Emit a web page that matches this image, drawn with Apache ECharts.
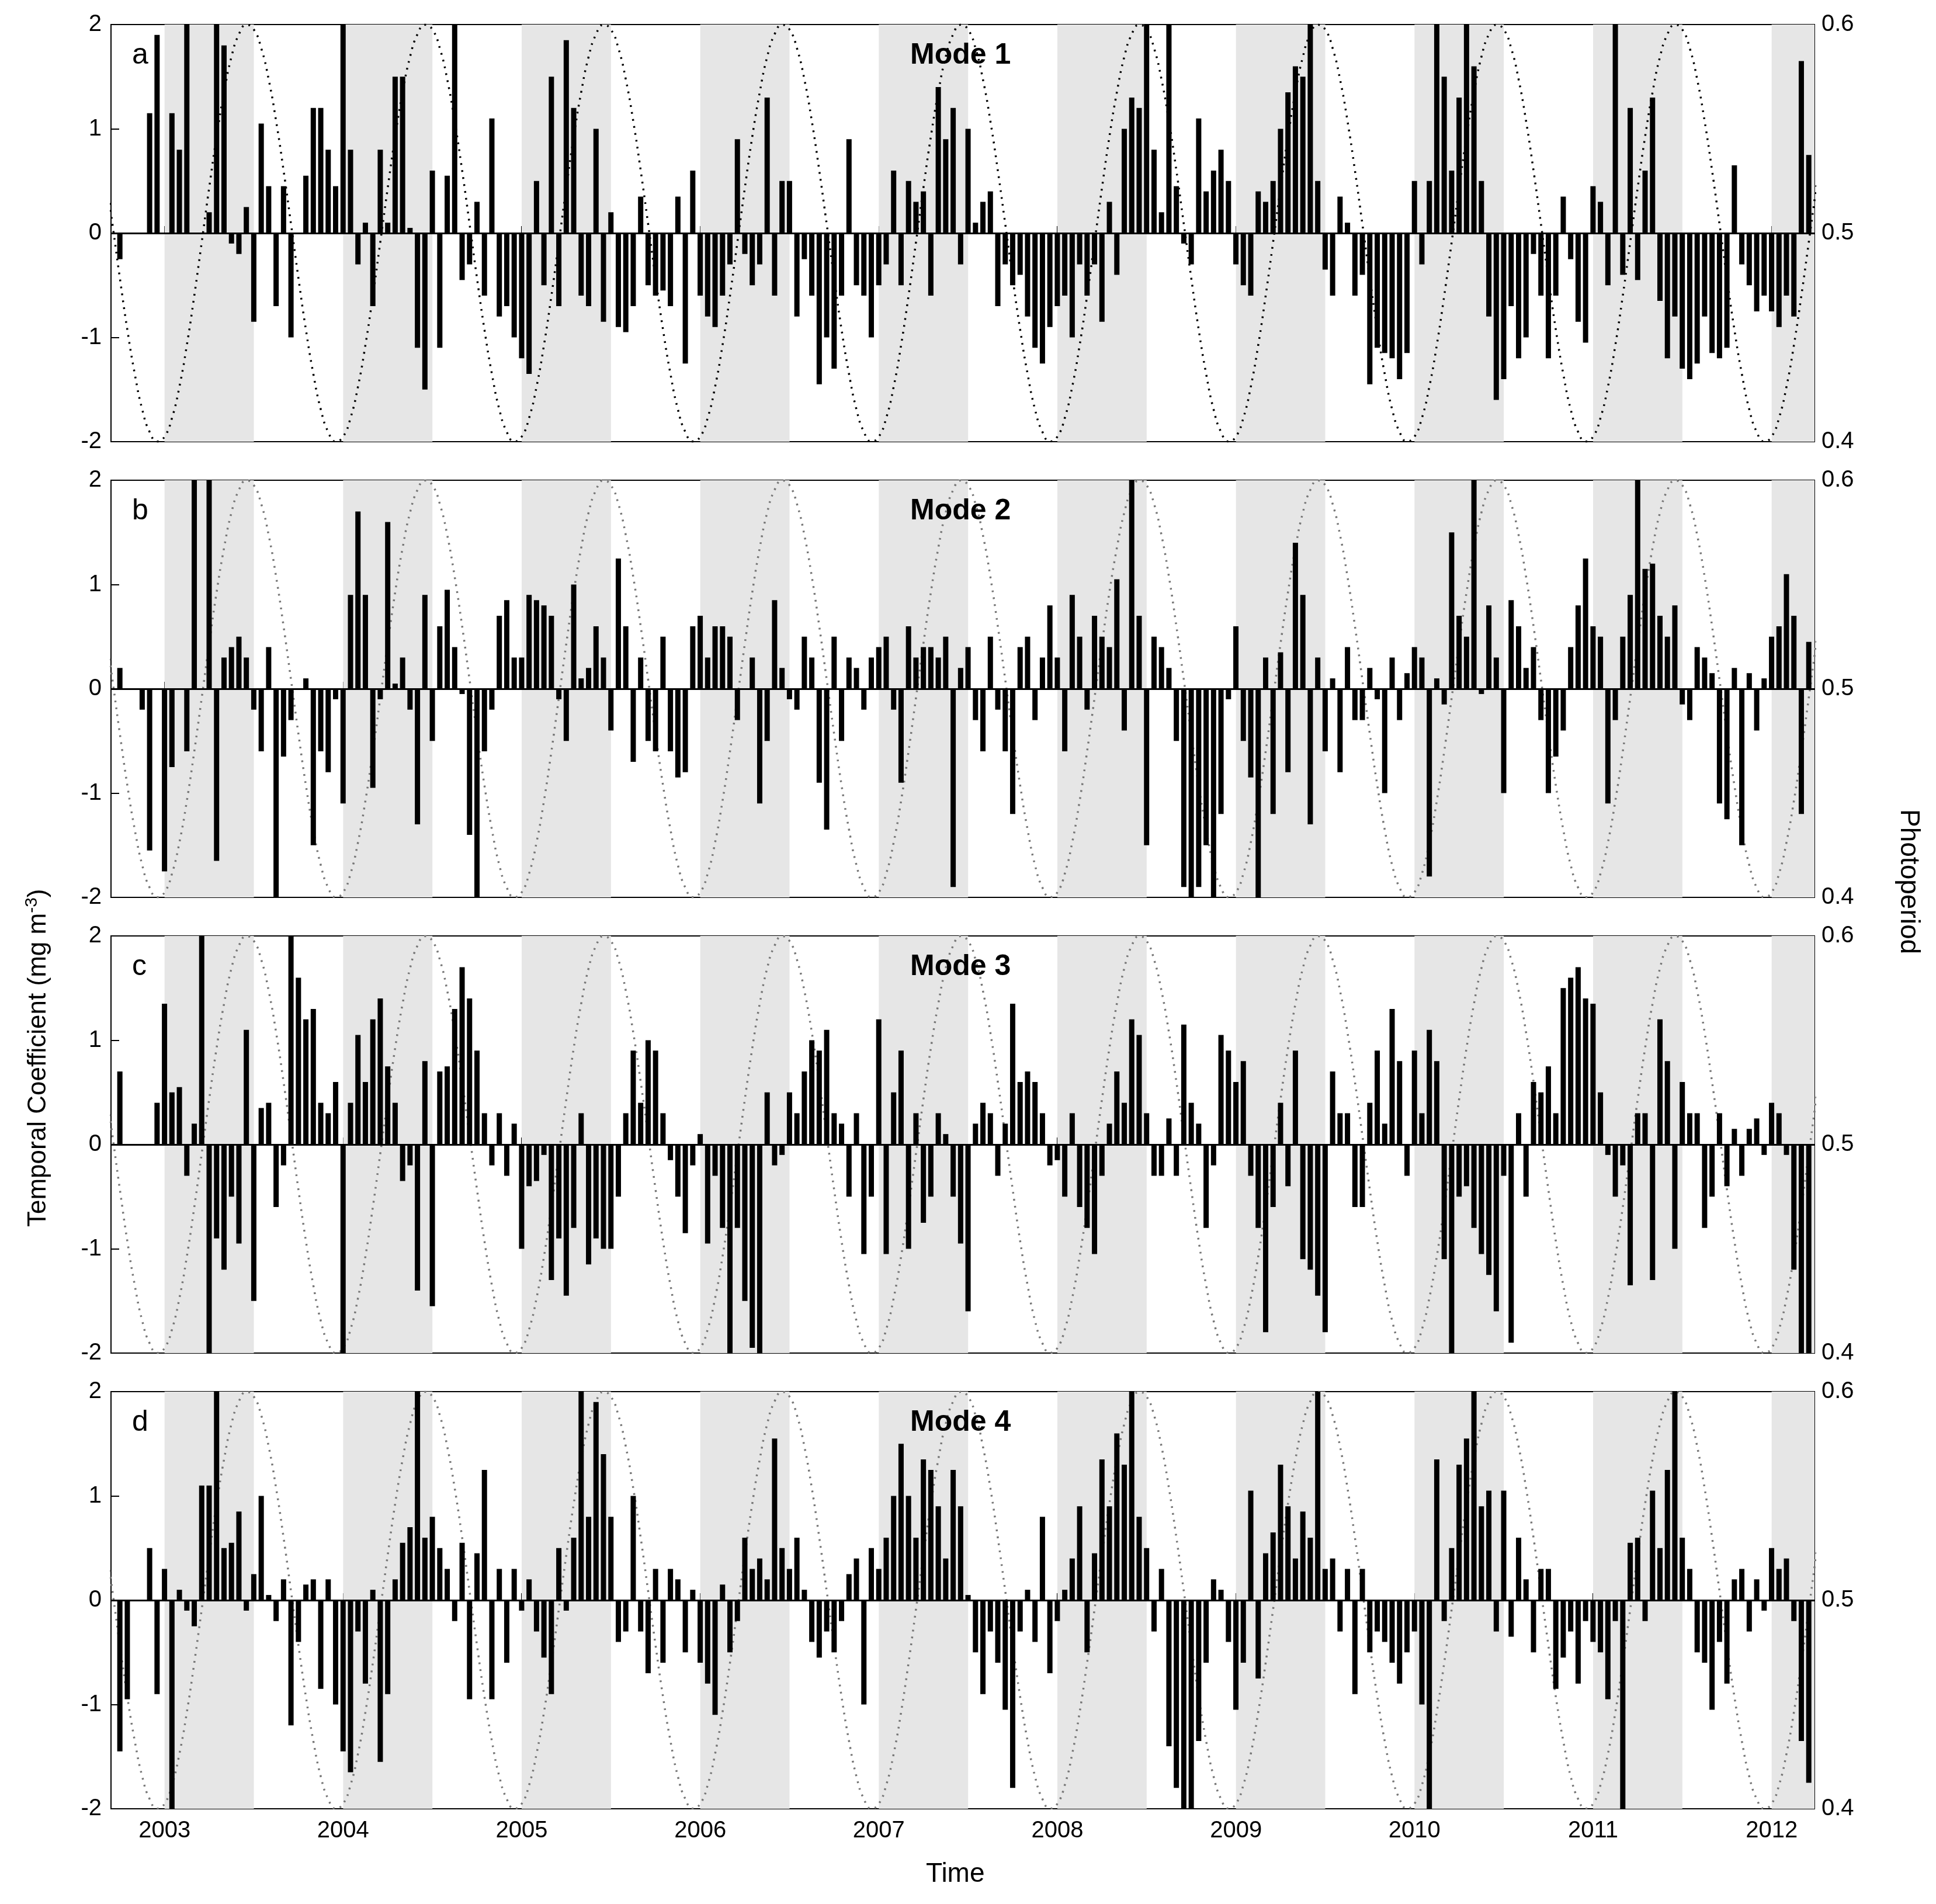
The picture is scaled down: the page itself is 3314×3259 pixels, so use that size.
<!DOCTYPE html>
<html><head><meta charset="utf-8">
<script src="https://cdn.jsdelivr.net/npm/echarts@6/dist/echarts.min.js"></script>
<style>html,body{margin:0;padding:0;background:#fff}#c{width:3314px;height:3259px}</style>
</head><body><div id="c"></div>
<script>
// time slots: semi-monthly, starting 2002.708
var startT = 2002.708, step = 1/24;
var yearTicks = [2003,2004,2005,2006,2007,2008,2009,2010,2011,2012];
var modeTitles = ['Mode 1','Mode 2','Mode 3','Mode 4'];
var panelLetters = ['a','b','c','d'];
// photoperiod over one year, 24 points starting Jan 1
var photoCycle = [0.4024,0.4114,0.4264,0.4464,0.4701,0.4958,0.5218,0.5464,0.5676,0.5846,0.5954,0.5999,0.5976,0.5886,0.5736,0.5536,0.5299,0.5042,0.4782,0.4536,0.4324,0.4154,0.4046,0.4001];

var mode1 = [
0,-0.25,0,0,0,1.15,1.9,
0,1.15,0.8,2,0,0,0.2,2,1.8,-0.1,-0.2,0.25,-0.85,1.05,0.45,-0.7,0.45,-1.0,0,0.55,1.2,1.2,0.8,0.45,
2,0.8,-0.3,0.1,-0.7,0.8,0.1,1.5,1.5,0.05,-1.1,-1.5,0.6,-1.1,0.55,2,-0.45,-0.3,0.3,-0.6,1.1,-0.8,-0.7,-1.0,
-1.2,-1.35,0.5,-0.5,1.5,-0.7,1.85,1.2,-0.6,-0.7,1.0,-0.85,0.2,-0.9,-0.95,-0.7,0.35,-0.5,-0.6,-0.55,-0.7,0.35,-1.25,0.6,
-0.6,-0.8,-0.9,-0.6,-0.3,0.9,-0.2,-0.5,-0.3,1.3,-0.6,0.5,0.5,-0.8,-0.25,-0.6,-1.45,-1.0,-1.3,-0.6,0.9,-0.5,-0.6,-1.0,
-0.5,-0.3,0.6,-0.5,0.5,0.3,0.4,-0.6,1.4,0.9,1.2,-0.3,1.0,0.1,0.3,0.4,-0.7,-0.3,-0.5,-0.4,-0.8,-1.1,-1.25,-0.9,
-0.7,-0.6,-1.0,-0.3,-0.6,-0.3,-0.85,0.3,-0.4,1.0,1.3,1.2,2,0.8,0.2,2,0.45,-0.1,-0.3,1.1,0.4,0.6,0.8,0.5,
-0.3,-0.5,-0.6,0.4,0.3,0.5,1.0,1.35,1.6,1.5,2,0.5,-0.35,-0.6,0.35,0.1,-0.6,-0.4,-1.45,-1.1,-1.15,-1.2,-1.4,-1.15,
0.5,-0.3,0.5,2,1.5,0.6,1.3,2,1.6,0.5,-0.8,-1.6,-1.4,-0.7,-1.2,-1.0,-0.2,-0.6,-1.2,-0.6,0.35,-0.25,-0.85,-1.05,
0.45,0.3,-0.5,2,-0.4,1.2,-0.45,0.6,1.3,-0.65,-1.2,-0.8,-1.3,-1.4,-1.25,-0.8,-1.15,-1.2,-1.1,0.65,-0.3,-0.5,-0.75,-0.6,
-0.75,-0.9,-0.6,-0.8,1.65,0.75];
var mode2 = [
0,0.2,0,0,-0.2,-1.55,0,
-1.75,-0.75,0,-0.6,2,0,2,-1.65,0.3,0.4,0.5,0.3,-0.2,-0.6,0.4,-2,-0.65,-0.3,0,0.1,-1.5,-0.6,-0.8,-0.1,
-1.1,0.9,1.7,0.9,-0.95,-0.1,1.6,0.05,0.3,-0.2,-1.3,0.9,-0.5,0.6,0.95,0.4,-0.05,-1.4,-2,-0.6,-0.2,0.7,0.85,0.3,
0.3,0.9,0.85,0.8,0.7,-0.1,-0.5,1.0,0.1,0.2,0.6,0.3,-0.4,1.25,0.6,-0.7,0.3,-0.5,-0.6,0.5,-0.6,-0.85,-0.8,0.6,
0.7,0.3,0.6,0.6,0.5,-0.3,0,0.3,-1.1,-0.5,0.85,0.2,-0.1,-0.2,0.5,0.3,-0.9,-1.35,0.5,-0.5,0.3,0.2,-0.2,0.3,
0.4,0.5,-0.2,-0.9,0.6,0.3,0.4,0.4,0.3,0.5,-1.9,0.2,0.4,-0.3,-0.6,0.5,-0.2,-0.6,-1.2,0.4,0.5,-0.3,0.3,0.8,
0.3,-0.6,0.9,0.5,-0.2,0.7,0.5,0.4,1.05,-0.4,2,0.7,-1.5,0.5,0.4,0.2,-0.5,-1.9,-2,-1.9,-1.5,-2,-1.2,-0.1,
0.6,-0.5,-0.85,-2,0.3,-1.2,0.35,-0.8,1.4,0.9,-1.3,0.3,-0.6,0.1,-0.8,0.4,-0.3,-0.3,0.2,-0.1,-1.0,0.3,-0.3,0.15,
0.4,0.3,-1.8,0.1,-0.15,1.5,0.7,0.5,2,-0.05,0.8,0.3,-1.0,0.85,0.6,0.2,0.4,-0.3,-1.0,-0.65,-0.4,0.4,0.8,1.25,
0.6,0.5,-1.1,-0.3,0.5,0.9,2,1.15,1.2,0.7,0.5,0.8,-0.15,-0.3,0.4,0.3,0.15,-1.1,-1.25,0.2,-1.5,0.15,-0.4,0.1,
0.5,0.6,1.1,0.7,-1.2,0.45];
var mode3 = [
0,0.7,0,0,0,0,0.4,
1.35,0.5,0.55,-0.3,0.2,2,-2,-0.9,-1.2,-0.5,-0.95,1.1,-1.5,0.35,0.4,-0.6,-0.2,2,1.6,1.2,1.3,0.4,0.3,0.6,
-2,0.4,1.05,0.6,1.2,1.4,0.75,0.4,-0.35,-0.2,-1.4,0.8,-1.55,0.7,0.75,1.3,1.7,1.4,0.9,0.3,-0.2,0.3,-0.3,0.2,
-1.0,-0.4,-0.35,-0.1,-1.3,-0.9,-1.45,-0.8,0.3,-1.15,-0.9,-1.0,-1.0,-0.5,0.3,0.9,0.4,1.0,0.9,0.3,-0.15,-0.5,-0.85,-0.2,
0.1,-0.95,-0.3,-0.8,-2,-0.8,-1.5,-1.95,-2,0.5,-0.2,-0.1,0.5,0.3,0.7,1.0,0.9,1.1,0.3,0.2,-0.5,0.3,-1.05,-0.5,
1.2,-1.05,0.5,0.9,-1.0,0.3,-0.75,-0.5,0.3,0.1,-0.5,-0.95,-1.6,0.2,0.4,0.3,-0.3,0.2,1.35,0.6,0.7,0.6,0.3,-0.2,
-0.15,-0.5,0.3,-0.6,-0.8,-1.05,-0.3,0.2,0.7,0.4,1.2,1.05,0.3,-0.3,-0.3,0.25,-0.3,1.15,0.4,0.2,-0.8,-0.2,1.05,0.9,
0.6,0.8,-0.3,-0.8,-1.8,-0.6,0.4,-0.4,0.9,-1.1,-1.2,-1.45,-1.8,0.7,0.3,0.3,-0.6,-0.6,0.4,0.9,0.2,1.3,0.8,-0.3,
0.9,0.3,1.1,0.8,-1.1,-2,-0.5,-0.4,-0.8,-1.05,-1.25,-1.6,-0.3,-1.9,0.3,-0.5,0.6,0.5,0.75,0.3,1.5,1.6,1.7,1.4,
1.35,0.5,-0.1,-0.5,-0.2,-1.35,0.3,0.3,-1.3,1.2,0.8,-1.0,0.6,0.3,0.3,-0.8,-0.5,0.3,-0.4,0.15,-0.3,0.15,0.25,-0.1,
0.4,0.3,-0.1,-1.2,-2,-2];
var mode4 = [
0,-1.45,-0.95,0,0,0.5,-0.9,
0.3,-2,0.1,-0.1,-0.25,1.1,1.1,2,0.5,0.55,0.85,-0.1,0.25,1.0,0.05,-0.2,0.2,-1.2,-0.4,0.15,0.2,-0.85,0.2,-1.0,
-1.45,-1.65,-0.3,-0.8,0.1,-1.55,-0.9,0.2,0.55,0.7,2,0.6,0.8,0.5,0.3,-0.2,0.55,-0.95,0.45,1.25,-0.95,0.3,-0.6,0.3,
-0.1,0.2,-0.3,-0.55,-0.9,0.5,-0.1,0.6,2,0.8,1.9,1.4,0.8,-0.4,-0.3,1.0,-0.3,-0.7,0.3,-0.6,0.3,0.2,-0.5,0.1,
-0.6,-0.8,-1.1,0.15,-0.5,-0.2,0.6,0.3,0.4,0.2,1.55,0.5,0.3,0.6,0.1,-0.4,-0.55,-0.3,-0.5,-0.2,0.25,0.4,-1.0,0.5,
0.3,0.6,1.0,1.5,1.0,0.6,1.35,1.25,0.9,0.4,1.25,0.9,0.05,-0.5,-0.9,-0.3,-0.6,-1.05,-1.8,-0.3,0.1,-0.4,0.8,-0.7,
-0.2,0.1,0.4,0.9,-0.5,0.45,1.35,0.9,1.6,1.3,2,0.8,0.5,-0.3,0.3,-1.4,-1.8,-2,-2,-1.35,-0.6,0.2,0.1,-0.4,
-1.05,-0.6,1.05,-0.75,0.45,0.65,1.3,0.9,0.4,0.85,0.6,2,0.3,0.4,-0.3,0.3,-0.9,0.3,-0.5,-0.3,-0.4,-0.6,-0.8,-0.5,
-0.3,-1.0,-2,1.35,-0.2,0.5,1.3,1.55,2,0.9,1.05,-0.3,1.05,-0.35,0.6,0.2,-0.5,0.3,0.3,-0.85,-0.55,-0.3,-0.8,-0.2,
-0.4,-0.5,-0.95,-0.2,-2,0.55,0.6,-0.2,1.05,0.5,1.25,2,0.6,0.3,-0.5,-0.6,-1.05,-0.4,-0.8,0.2,0.3,-0.3,0.2,-0.1,
0.5,0.3,0.4,-0.2,-1.35,-1.75];
var modes = [mode1, mode2, mode3, mode4];

var xMin = 2002.70, xMax = 2012.24;
var chart = echarts.init(document.getElementById('c'));
var tops = [42, 822, 1602, 2382], H = 714, L = 190, R = 208;
var FONT = 'Arial, Liberation Sans, sans-serif';
var grids = [], xAxes = [], yAxes = [], series = [], graphics = [];

var photoData = [];
for (var y = 2002; y <= 2012; y++) for (var k = 0; k < 24; k++) photoData.push([y + k/24, photoCycle[k]]);
photoData.push([2013, photoCycle[0]]);

var shade = yearTicks.map(function(y){ return [{xAxis: y}, {xAxis: Math.min(y + 0.5, xMax)}]; });

for (var p = 0; p < 4; p++) {
  grids.push({left: L, right: R, top: tops[p], height: H, show: true, borderColor: '#000', borderWidth: 2, backgroundColor: 'transparent'});
  xAxes.push({type: 'value', gridIndex: p, min: xMin, max: xMax, splitLine: {show: false},
    axisLine: {show: false},
    axisTick: {show: true, inside: true, length: 12, customValues: yearTicks, lineStyle: {color: '#000', width: 2}},
    axisLabel: {show: p === 3, customValues: yearTicks, fontSize: 40, color: '#000', fontFamily: FONT, margin: 18,
      formatter: function(v){ return String(Math.round(v)); }}});
  yAxes.push({type: 'value', gridIndex: p, min: -2, max: 2, interval: 1, splitLine: {show: false},
    axisLine: {show: false},
    axisTick: {show: true, inside: true, length: 14, lineStyle: {color: '#000', width: 2}},
    axisLabel: {fontSize: 40, color: '#000', fontFamily: FONT, margin: 16}});
  yAxes.push({type: 'value', gridIndex: p, position: 'right', min: 0.4, max: 0.6, interval: 0.1, splitLine: {show: false},
    axisLine: {show: false},
    axisTick: {show: true, inside: true, length: 14, lineStyle: {color: '#000', width: 2}},
    axisLabel: {fontSize: 40, color: '#000', fontFamily: FONT, margin: 12, formatter: function(v){ return v.toFixed(1); }}});
  var bars = modes[p].map(function(v, i){ return [startT + i*step, v]; });
  series.push({type: 'line', xAxisIndex: p, yAxisIndex: 2*p, data: [], silent: true,
    markArea: {silent: true, itemStyle: {color: '#e6e6e6'}, data: shade}});
  series.push({type: 'line', xAxisIndex: p, yAxisIndex: 2*p+1, data: photoData, smooth: true, symbol: 'none', clip: true,
    lineStyle: {type: [3, 9], width: 3.5, color: p === 0 ? '#000' : '#777'}, silent: true, z: 3});
  series.push({type: 'bar', xAxisIndex: p, yAxisIndex: 2*p, data: bars, barWidth: 9, clip: true,
    itemStyle: {color: '#000'}, silent: true, z: 4,
    markLine: {silent: true, symbol: 'none', label: {show: false}, lineStyle: {color: '#000', width: 3, type: 'solid'}, data: [{yAxis: 0}]}});
  graphics.push({type: 'text', z: 100, left: 226, top: tops[p] + 28, style: {text: panelLetters[p], fontSize: 50, fontFamily: FONT, fill: '#000'}});
  graphics.push({type: 'text', z: 100, left: 1558, top: tops[p] + 28, style: {text: modeTitles[p], fontSize: 50, fontWeight: 'bold', fontFamily: FONT, fill: '#000'}});
}
graphics.push({type: 'text', z: 100, left: 1585, top: 3185, style: {text: 'Time', fontSize: 46, fontFamily: FONT, fill: '#000'}});
graphics.push({type: 'text', z: 100, x: 40, y: 2100, rotation: Math.PI/2,
  style: {text: '{n|Temporal Coefficient (mg m}{s|-3}{n|)}', fontFamily: FONT, fill: '#000',
    rich: {n: {fontSize: 44, fontFamily: FONT}, s: {fontSize: 30, fontFamily: FONT, verticalAlign: 'top', padding: [0,0,22,0]}}}});
graphics.push({type: 'text', z: 100, x: 3290, y: 1385, rotation: -Math.PI/2,
  style: {text: 'Photoperiod', fontSize: 46, fontFamily: FONT, fill: '#000'}});

chart.setOption({animation: false, backgroundColor: '#fff', grid: grids, xAxis: xAxes, yAxis: yAxes, series: series, graphic: graphics});
</script></body></html>
